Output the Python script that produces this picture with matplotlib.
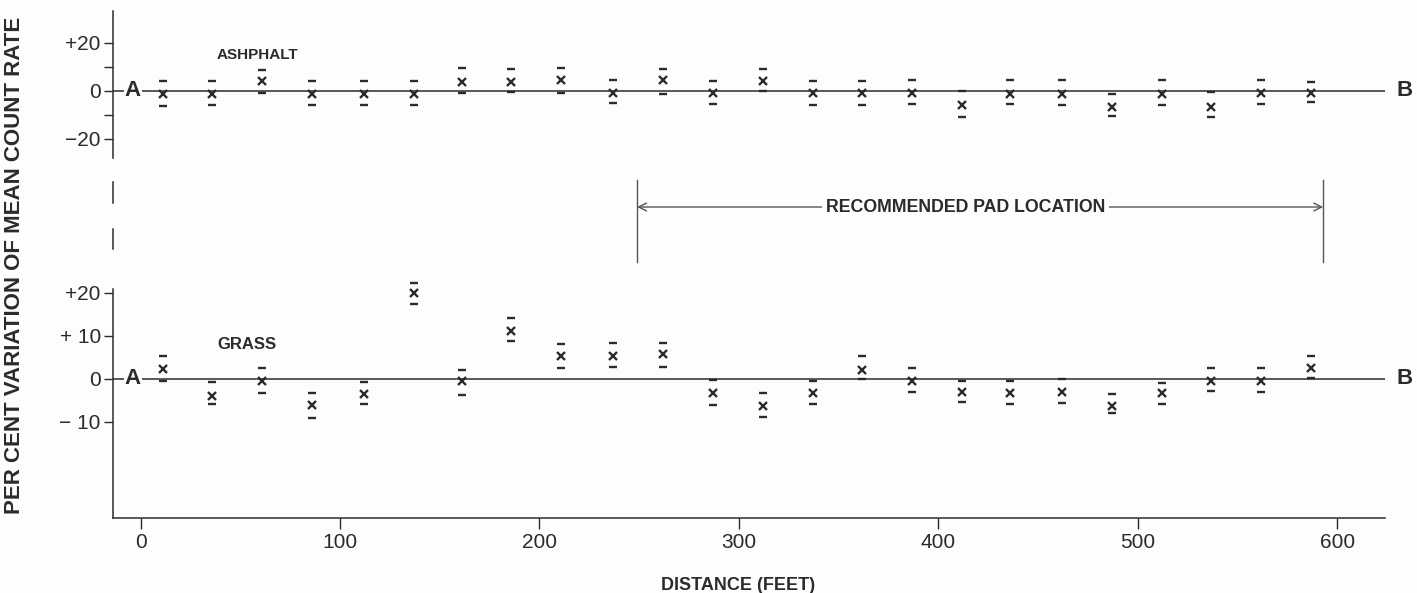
import matplotlib.pyplot as plt
from matplotlib.transforms import blended_transform_factory

# station positions along the traverse (feet)
distance = [11, 36, 61, 86, 112, 137, 161, 186, 211, 237, 262, 287,
            312, 337, 362, 387, 412, 436, 462, 487, 512, 537, 562, 587]

# asphalt traverse: mean variation and upper / lower limits (per cent)
asph_val = [-1.5, -1.5, 4.0, -1.5, -1.5, -1.5, 3.8, 3.8, 4.3, -0.8, 4.3, -1.1,
            4.2, -1.1, -1.1, -1.1, -6.1, -1.4, -1.4, -6.9, -1.4, -6.7, -1.1, -1.1]
asph_hi = [4.0, 4.0, 8.6, 4.0, 4.0, 4.0, 9.6, 8.9, 9.3, 4.5, 9.0, 4.2,
           9.0, 4.0, 4.0, 4.5, -0.2, 4.5, 4.5, -1.5, 4.3, -0.4, 4.3, 3.8]
asph_lo = [-6.4, -6.0, -0.8, -6.0, -6.0, -6.0, -1.1, -0.4, -0.8, -5.0, -1.5, -5.4,
           0.0, -6.1, -6.0, -5.7, -11.0, -5.4, -5.8, -10.4, -5.8, -11.0, -5.4, -4.9]

# grass traverse
grass_val = [2.3, -3.9, -0.5, -6.0, -3.5, 19.9, -0.4, 11.2, 5.4, 5.4, 5.7, -3.3,
             -6.3, -3.3, 2.1, -0.4, -3.1, -3.2, -3.1, -6.2, -3.3, -0.5, -0.5, 2.5]
grass_hi = [5.3, -0.8, 2.5, -3.2, -0.8, 22.3, 2.1, 14.1, 8.1, 8.3, 8.3, -0.2,
            -3.3, -0.5, 5.3, 2.5, -0.5, -0.5, 0.0, -3.5, -0.9, 2.5, 2.5, 5.3]
grass_lo = [-0.5, -5.9, -3.2, -9.1, -5.9, 17.4, -3.7, 8.8, 2.6, 2.8, 2.8, -6.0,
            -8.9, -5.9, -0.1, -3.1, -5.3, -5.9, -5.7, -8.0, -5.9, -2.8, -3.1, 0.3]

x_ticks = [0, 100, 200, 300, 400, 500, 600]
pad_start, pad_end = 249, 593

ink = '#2b2b2b'
plt.rcParams['font.family'] = ['Liberation Sans', 'DejaVu Sans']
plt.rcParams['text.color'] = ink
plt.rcParams['axes.edgecolor'] = ink
plt.rcParams['xtick.color'] = ink
plt.rcParams['ytick.color'] = ink

fig = plt.figure(figsize=(14.17, 5.93), dpi=100)
fig.patch.set_facecolor('#fdfdfd')
ax1 = fig.add_axes([0.0795, 0.7336, 0.8979, 0.2479])
ax2 = fig.add_axes([0.0795, 0.1265, 0.8979, 0.3862])

xlim = (-14, 624)


def draw_series(ax, val, hi, lo):
    ax.axhline(0, color=ink, lw=1.1, zorder=1)
    ax.plot(distance, val, ls='none', marker='x', ms=5.8, mew=1.7,
            color=ink, clip_on=False, zorder=3)
    ax.plot(distance, hi, ls='none', marker='_', ms=5.5, mew=1.7,
            color=ink, clip_on=False, zorder=3)
    ax.plot(distance, lo, ls='none', marker='_', ms=5.5, mew=1.7,
            color=ink, clip_on=False, zorder=3)
    ax.text(-3.8, 0, 'A', ha='center', va='center', fontsize=16,
            fontweight='bold', zorder=4,
            bbox=dict(facecolor='#fdfdfd', edgecolor='none', pad=1))
    ax.text(634, 0, 'B', ha='center', va='center', fontsize=16,
            fontweight='bold', clip_on=False)
    ax.set_xlim(*xlim)
    ax.set_facecolor('none')
    for side in ('top', 'right'):
        ax.spines[side].set_visible(False)
    for sp in ax.spines.values():
        sp.set_linewidth(1.1)
    ax.tick_params(axis='y', direction='out', length=6.5, width=1.0,
                   labelsize=15, pad=2)


# upper panel: asphalt
draw_series(ax1, asph_val, asph_hi, asph_lo)
ax1.set_ylim(-28, 33.2)
ax1.spines['bottom'].set_visible(False)
ax1.set_xticks([])
ax1.set_yticks([20, 0, -20])
ax1.set_yticklabels(['+20', '0', '\u221220'])
ax1.set_yticks([10, -10], minor=True)
ax1.tick_params(axis='y', which='minor', direction='out', length=6.5, width=1.0)
ax1.text(38.3, 14.9, 'ASHPHALT', ha='left', va='center', fontsize=11,
         fontweight='bold')

# lower panel: grass
draw_series(ax2, grass_val, grass_hi, grass_lo)
ax2.set_ylim(-32.3, 20.9)
ax2.set_yticks([20, 10, 0, -10])
ax2.set_yticklabels(['+20', '+ 10', '0', '\u2212 10'])
ax2.set_xticks(x_ticks)
ax2.set_xticklabels([str(t) for t in x_ticks])
ax2.tick_params(axis='x', direction='out', length=8, width=1.0,
                labelsize=15, pad=3)
ax2.text(38.3, 7.9, 'GRASS', ha='left', va='center', fontsize=12,
         fontweight='bold')

# axis break marks between the panels
brk = blended_transform_factory(ax2.transAxes, fig.transFigure)
for y0, y1 in [(1 - 203 / 593, 1 - 182 / 593), (1 - 249 / 593, 1 - 229 / 593)]:
    ax2.plot([0, 0], [y0, y1], color=ink, lw=1.1, transform=brk,
             clip_on=False)

# recommended pad location span
span = blended_transform_factory(ax2.transData, fig.transFigure)
arrow_y = 1 - 207 / 593
for xb in (pad_start, pad_end):
    ax2.plot([xb, xb], [1 - 262 / 593, 1 - 180 / 593], color='#555555',
             lw=1.0, transform=span, clip_on=False)
ax2.annotate('', xy=(pad_start, arrow_y), xytext=(pad_end, arrow_y),
             xycoords=span, textcoords=span,
             arrowprops=dict(arrowstyle='<->', color='#555555', lw=1.0,
                             shrinkA=0, shrinkB=0, mutation_scale=14))
ax2.text(413.6, arrow_y, 'RECOMMENDED PAD LOCATION', transform=span,
         ha='center', va='center', fontsize=12.8, fontweight='bold',
         bbox=dict(facecolor='#fdfdfd', edgecolor='none', pad=3))

fig.text(15 / 1417, 1 - 265 / 593, 'PER CENT VARIATION OF MEAN COUNT RATE',
         rotation=90, ha='center', va='center', fontsize=16,
         fontweight='bold')
fig.text(738 / 1417, 1 - 585 / 593, 'DISTANCE (FEET)', ha='center',
         va='center', fontsize=13, fontweight='bold')

fig.savefig('out.png', dpi=100, facecolor=fig.get_facecolor())
